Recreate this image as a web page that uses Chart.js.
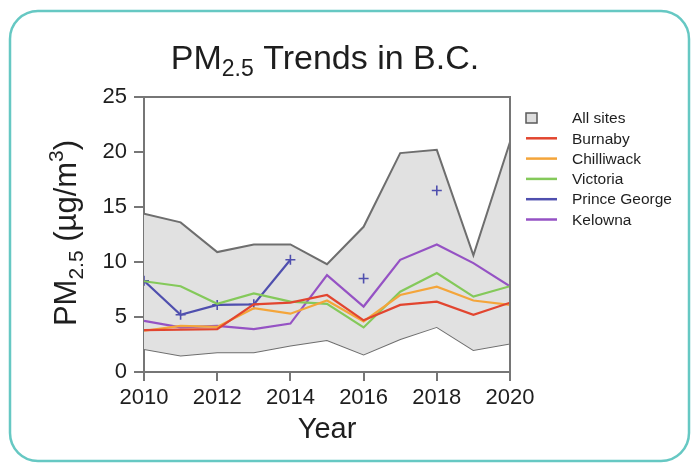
<!DOCTYPE html>
<html><head><meta charset="utf-8">
<script src="https://cdn.jsdelivr.net/npm/chart.js@4"></script>
<style>html,body{margin:0;padding:0;background:#fff;}canvas{display:block}</style>
</head><body>
<canvas id="c" width="693" height="464"></canvas>
<script>
// ---- data ----
const years        = [2010, 2011, 2012, 2013, 2014, 2015, 2016, 2017, 2018, 2019, 2020];
const xTicks       = [2010, 2012, 2014, 2016, 2018, 2020];
const yTicks       = [0, 5, 10, 15, 20, 25];
const allSitesMin  = [2.1, 1.5, 1.8, 1.8, 2.4, 2.9, 1.6, 3.0, 4.1, 2.0, 2.6];
const allSitesMax  = [14.4, 13.6, 10.9, 11.6, 11.6, 9.8, 13.2, 19.9, 20.2, 10.6, 20.9];
const burnaby      = [3.8, 3.85, 3.9, 6.15, 6.3, 7.0, 4.7, 6.1, 6.4, 5.2, 6.3];
const chilliwack   = [3.75, 4.2, 4.1, 5.8, 5.3, 6.5, 4.6, 7.0, 7.75, 6.5, 6.1];
const victoria     = [8.25, 7.8, 6.2, 7.15, 6.4, 6.2, 4.05, 7.3, 9.0, 6.85, 7.8];
const princeGeorge = [8.3, 5.2, 6.1, 6.15, 10.2, null, 8.5, null, 16.5, null, null];
const kelowna      = [4.65, 4.05, 4.2, 3.9, 4.4, 8.8, 5.95, 10.2, 11.6, 9.9, 7.8];
const seriesNames  = ['All sites', 'Burnaby', 'Chilliwack', 'Victoria', 'Prince George', 'Kelowna'];

const FONT = '"Liberation Sans", Arial, Helvetica, sans-serif';
const TXT = '#1e1e1e';
const toPts = arr => years.map((x, i) => ({x: x, y: arr[i]}));

const colors = {
  'Burnaby': '#e2452f',
  'Chilliwack': '#f4a53a',
  'Victoria': '#84c95a',
  'Prince George': '#4f4fae',
  'Kelowna': '#9552c4'
};

function lineDs(label, arr, order, extra) {
  return Object.assign({
    label: label, data: toPts(arr), borderColor: colors[label], backgroundColor: colors[label],
    borderWidth: 2.2, pointRadius: 0, fill: false, tension: 0, order: order, spanGaps: false
  }, extra || {});
}

function drawRich(ctx, segs, x, y) {
  for (const s of segs) {
    ctx.font = s.size + 'px ' + FONT;
    ctx.fillText(s.text, x, y + (s.dy || 0));
    x += ctx.measureText(s.text).width;
  }
}
function richWidth(ctx, segs) {
  let w = 0;
  for (const s of segs) { ctx.font = s.size + 'px ' + FONT; w += ctx.measureText(s.text).width; }
  return w;
}
function roundRect(ctx, x, y, w, h, r) {
  ctx.beginPath();
  ctx.moveTo(x + r, y);
  ctx.lineTo(x + w - r, y); ctx.arcTo(x + w, y, x + w, y + r, r);
  ctx.lineTo(x + w, y + h - r); ctx.arcTo(x + w, y + h, x + w - r, y + h, r);
  ctx.lineTo(x + r, y + h); ctx.arcTo(x, y + h, x, y + h - r, r);
  ctx.lineTo(x, y + r); ctx.arcTo(x, y, x + r, y, r);
  ctx.closePath();
}

const decor = {
  id: 'decor',
  beforeDraw(chart) {
    const ctx = chart.ctx;
    ctx.save();
    ctx.fillStyle = '#fff';
    ctx.fillRect(0, 0, chart.width, chart.height);
    ctx.strokeStyle = '#66c8c3';
    ctx.lineWidth = 2.5;
    roundRect(ctx, 10, 11, 679, 450, 28);
    ctx.stroke();
    ctx.restore();
  },
  afterDatasetsDraw(chart) {
    const ctx = chart.ctx, a = chart.chartArea;
    ctx.save();
    ctx.strokeStyle = '#767676';
    ctx.lineWidth = 2;
    ctx.beginPath();
    ctx.moveTo(a.left, a.top); ctx.lineTo(a.right, a.top); ctx.lineTo(a.right, a.bottom);
    ctx.stroke();
    ctx.restore();
  },
  afterDraw(chart) {
    const ctx = chart.ctx;
    ctx.save();
    ctx.fillStyle = TXT;
    ctx.textBaseline = 'alphabetic';
    ctx.textAlign = 'left';
    // title
    const tSegs = [{text: 'PM', size: 34}, {text: '2.5', size: 23, dy: 7}, {text: ' Trends in B.C.', size: 34}];
    const tw = richWidth(ctx, tSegs);
    drawRich(ctx, tSegs, 325 - tw / 2, 69);
    // y label
    const ySegs = [{text: 'PM', size: 31}, {text: '2.5', size: 21, dy: 7}, {text: ' (\u00b5g/m', size: 31}, {text: '3', size: 21, dy: -13}, {text: ')', size: 31}];
    const yw = richWidth(ctx, ySegs);
    ctx.translate(76, 233);
    ctx.rotate(-Math.PI / 2);
    drawRich(ctx, ySegs, -yw / 2, 0);
    ctx.setTransform(1, 0, 0, 1, 0, 0);
    // legend
    const x0 = 526, y0 = 118, step = 20.3;
    ctx.font = '15.5px ' + FONT;
    ctx.textBaseline = 'middle';
    seriesNames.forEach((name, i) => {
      const y = y0 + i * step;
      if (i === 0) {
        ctx.fillStyle = '#dedede';
        ctx.fillRect(x0, y - 5, 11, 10);
        ctx.strokeStyle = '#5a5a5a';
        ctx.lineWidth = 1.5;
        ctx.strokeRect(x0, y - 5, 11, 10);
      } else {
        ctx.strokeStyle = colors[name];
        ctx.lineWidth = 2.5;
        ctx.beginPath(); ctx.moveTo(x0, y); ctx.lineTo(x0 + 31, y); ctx.stroke();
      }
      ctx.fillStyle = TXT;
      ctx.fillText(name, 572, y + 1);
    });
    ctx.restore();
  }
};

const datasets = [
  {label: 'All sites min', data: toPts(allSitesMin), borderColor: '#6e6e6e', borderWidth: 2, pointRadius: 0, fill: false, order: 10, tension: 0},
  {label: 'All sites', data: toPts(allSitesMax), borderColor: '#6e6e6e', backgroundColor: '#e1e1e1', borderWidth: 2, pointRadius: 0, fill: '-1', order: 9, tension: 0},
  lineDs('Burnaby', burnaby, 1),
  lineDs('Chilliwack', chilliwack, 2),
  lineDs('Victoria', victoria, 3),
  lineDs('Prince George', princeGeorge, 4, {pointStyle: 'cross', pointRadius: 5, pointBorderWidth: 1.6, pointBorderColor: colors['Prince George']}),
  lineDs('Kelowna', kelowna, 5)
];

new Chart(document.getElementById('c'), {
  type: 'line',
  data: {datasets: datasets},
  options: {
    responsive: false,
    animation: false,
    devicePixelRatio: 1,
    layout: {padding: {left: 0, top: 97, right: 183, bottom: 0}},
    plugins: {legend: {display: false}, tooltip: {enabled: false}, title: {display: false}},
    scales: {
      x: {
        type: 'linear', min: years[0], max: years[years.length - 1],
        afterFit: s => { s.height = 92; },
        afterBuildTicks: s => { s.ticks = xTicks.map(v => ({value: v})); },
        ticks: {color: TXT, font: {family: FONT, size: 22}, padding: 4, maxRotation: 0, autoSkip: false, callback: v => String(v)},
        grid: {display: true, drawOnChartArea: false, drawTicks: true, tickLength: 9, color: '#767676', lineWidth: 2},
        border: {display: true, color: '#767676', width: 2},
        title: {display: true, text: 'Year', color: TXT, font: {family: FONT, size: 29}, padding: {top: 0, bottom: 17}}
      },
      y: {
        type: 'linear', min: 0, max: 25,
        afterFit: s => { s.width = 144; },
        afterBuildTicks: s => { s.ticks = yTicks.map(v => ({value: v})); },
        ticks: {color: TXT, font: {family: FONT, size: 22}, padding: 7, callback: v => String(v)},
        grid: {display: true, drawOnChartArea: false, drawTicks: true, tickLength: 10, color: '#767676', lineWidth: 2},
        border: {display: true, color: '#767676', width: 2}
      }
    }
  },
  plugins: [decor]
});
</script>
</body></html>
